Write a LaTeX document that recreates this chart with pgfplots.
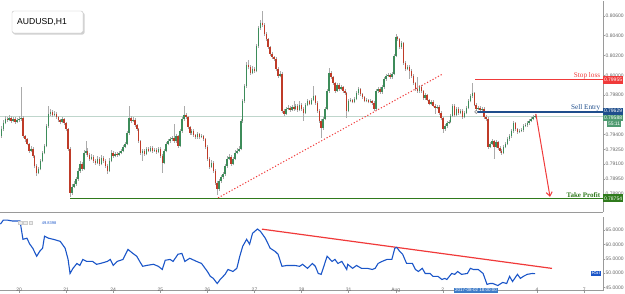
\documentclass[border=0pt]{standalone}
\usepackage{pgfplots}
\pgfplotsset{compat=1.18}
\usepackage{pgfplotstable}
\usetikzlibrary{arrows.meta}
\usepackage{fontspec}
\setmainfont{Liberation Sans}
\newfontfamily\serifl{Liberation Serif}

\definecolor{upc}{HTML}{3D8C5A}
\definecolor{dnc}{HTML}{BF3B28}
\definecolor{wickc}{HTML}{ABABAB}
\definecolor{rsic}{HTML}{1A55C8}
\definecolor{slc}{HTML}{F03A3A}
\definecolor{sec}{HTML}{1F4E8C}
\definecolor{tpc}{HTML}{2F7A1C}
\definecolor{curc}{HTML}{BFD6CC}
\definecolor{curbox}{HTML}{4E9A70}
\definecolor{axc}{HTML}{9A9A9A}
\definecolor{lblc}{HTML}{666666}
\definecolor{datebox}{HTML}{3F7CC8}
\newcommand{\tk}{\fontsize{5}{6}\selectfont}

% AUDUSD hourly candles, bar 0 = 20 Jul 00:00
\pgfplotstableread{
n o h l c
-9 0.79387 0.79488 0.79367 0.79458
-8 0.79458 0.79549 0.79440 0.79519
-7 0.79519 0.79590 0.79505 0.79559
-6 0.79559 0.79580 0.79530 0.79549
-5 0.79549 0.79600 0.79535 0.79569
-4 0.79569 0.79585 0.79520 0.79539
-3 0.79539 0.79578 0.79525 0.79559
-2 0.79559 0.79575 0.79510 0.79529
-1 0.79529 0.79570 0.79515 0.79549
0 0.79549 0.79590 0.79530 0.79559
1 0.79559 0.79883 0.79540 0.79569
2 0.79569 0.79585 0.79370 0.79387
3 0.79387 0.79400 0.79330 0.79357
4 0.79357 0.79370 0.79290 0.79306
5 0.79306 0.79320 0.79215 0.79235
6 0.79235 0.79280 0.79220 0.79256
7 0.79256 0.79270 0.79165 0.79185
8 0.79185 0.79195 0.79060 0.79084
9 0.79084 0.79100 0.78983 0.79013
10 0.79013 0.79075 0.79000 0.79054
11 0.79054 0.79150 0.79040 0.79134
12 0.79134 0.79235 0.79120 0.79215
13 0.79215 0.79310 0.79200 0.79286
14 0.79286 0.79510 0.79270 0.79488
15 0.79488 0.79690 0.79470 0.79610
16 0.79610 0.79660 0.79590 0.79630
17 0.79630 0.79650 0.79580 0.79599
18 0.79599 0.79640 0.79585 0.79610
19 0.79610 0.79625 0.79560 0.79579
20 0.79579 0.79590 0.79530 0.79549
21 0.79549 0.79560 0.79505 0.79529
22 0.79529 0.79580 0.79515 0.79559
23 0.79559 0.79570 0.79500 0.79519
24 0.79519 0.79530 0.79440 0.79458
25 0.79458 0.79470 0.79235 0.79256
26 0.79256 0.79270 0.78770 0.78811
27 0.78811 0.78900 0.78790 0.78872
28 0.78872 0.78930 0.78855 0.78902
29 0.78902 0.78975 0.78885 0.78952
30 0.78952 0.79060 0.78935 0.79033
31 0.79033 0.79130 0.79015 0.79104
32 0.79104 0.79120 0.79035 0.79054
33 0.79054 0.79240 0.79040 0.79215
34 0.79215 0.79337 0.79195 0.79235
35 0.79235 0.79260 0.79175 0.79195
36 0.79195 0.79215 0.79135 0.79155
37 0.79155 0.79200 0.79140 0.79175
38 0.79175 0.79190 0.79115 0.79134
39 0.79134 0.79150 0.79095 0.79114
40 0.79114 0.79180 0.79100 0.79155
41 0.79155 0.79170 0.79085 0.79104
42 0.79104 0.79190 0.79090 0.79165
43 0.79165 0.79185 0.79115 0.79134
44 0.79134 0.79150 0.79065 0.79084
45 0.79084 0.79100 0.79003 0.79033
46 0.79033 0.79160 0.79020 0.79134
47 0.79134 0.79240 0.79120 0.79215
48 0.79215 0.79230 0.79165 0.79185
49 0.79185 0.79225 0.79170 0.79205
50 0.79205 0.79220 0.79175 0.79195
51 0.79195 0.79235 0.79180 0.79215
52 0.79215 0.79255 0.79200 0.79235
53 0.79235 0.79295 0.79220 0.79276
54 0.79276 0.79330 0.79260 0.79306
55 0.79306 0.79440 0.79290 0.79417
56 0.79417 0.79690 0.79400 0.79569
57 0.79569 0.79590 0.79520 0.79539
58 0.79539 0.79575 0.79525 0.79549
59 0.79549 0.79565 0.79480 0.79498
60 0.79498 0.79510 0.79440 0.79458
61 0.79458 0.79470 0.79320 0.79337
62 0.79337 0.79350 0.79195 0.79215
63 0.79215 0.79255 0.79134 0.79235
64 0.79235 0.79250 0.79185 0.79205
65 0.79205 0.79275 0.79190 0.79256
66 0.79256 0.79270 0.79220 0.79235
67 0.79235 0.79285 0.79220 0.79266
68 0.79266 0.79280 0.79215 0.79235
69 0.79235 0.79265 0.79225 0.79246
70 0.79246 0.79260 0.79205 0.79225
71 0.79225 0.79275 0.79210 0.79256
72 0.79256 0.79270 0.79165 0.79185
73 0.79185 0.79200 0.79013 0.79114
74 0.79114 0.79255 0.79100 0.79235
75 0.79235 0.79330 0.79220 0.79306
76 0.79306 0.79360 0.79290 0.79337
77 0.79337 0.79380 0.79320 0.79357
78 0.79357 0.79390 0.79340 0.79367
79 0.79367 0.79508 0.79320 0.79337
80 0.79337 0.79410 0.79320 0.79387
81 0.79387 0.79400 0.79265 0.79286
82 0.79286 0.79460 0.79270 0.79438
83 0.79438 0.79580 0.79420 0.79559
84 0.79559 0.79690 0.79540 0.79599
85 0.79599 0.79620 0.79560 0.79579
86 0.79579 0.79590 0.79460 0.79478
87 0.79478 0.79490 0.79400 0.79417
88 0.79417 0.79460 0.79400 0.79438
89 0.79438 0.79455 0.79380 0.79397
90 0.79397 0.79410 0.79360 0.79377
91 0.79377 0.79430 0.79360 0.79407
92 0.79407 0.79420 0.79360 0.79377
93 0.79377 0.79410 0.79365 0.79387
94 0.79387 0.79400 0.79340 0.79357
95 0.79357 0.79370 0.79255 0.79276
96 0.79276 0.79290 0.79135 0.79155
97 0.79155 0.79170 0.79055 0.79074
98 0.79074 0.79140 0.79060 0.79114
99 0.79114 0.79130 0.79015 0.79033
100 0.79033 0.79050 0.78895 0.78912
101 0.78912 0.78930 0.78790 0.78851
102 0.78851 0.78955 0.78830 0.78932
103 0.78932 0.78995 0.78915 0.78973
104 0.78973 0.79025 0.78955 0.79003
105 0.79003 0.79105 0.78985 0.79084
106 0.79084 0.79180 0.79065 0.79155
107 0.79155 0.79200 0.79140 0.79175
108 0.79175 0.79190 0.79085 0.79104
109 0.79104 0.79175 0.79090 0.79155
110 0.79155 0.79240 0.79140 0.79215
111 0.79215 0.79260 0.79200 0.79235
112 0.79235 0.79280 0.79220 0.79256
113 0.79256 0.79560 0.79240 0.79539
114 0.79539 0.79765 0.79520 0.79741
115 0.79741 0.79915 0.79720 0.79893
116 0.79893 0.80130 0.79875 0.80105
117 0.80105 0.80150 0.80060 0.80085
118 0.80085 0.80100 0.80005 0.80024
119 0.80024 0.80090 0.80010 0.80065
120 0.80065 0.80080 0.80025 0.80044
121 0.80044 0.80320 0.80030 0.80297
122 0.80297 0.80500 0.80280 0.80479
123 0.80479 0.80560 0.80460 0.80530
124 0.80530 0.80651 0.80490 0.80509
125 0.80509 0.80530 0.80400 0.80418
126 0.80418 0.80435 0.80350 0.80368
127 0.80368 0.80380 0.80270 0.80287
128 0.80287 0.80300 0.80195 0.80216
129 0.80216 0.80235 0.80165 0.80186
130 0.80186 0.80200 0.80145 0.80166
131 0.80166 0.80180 0.80045 0.80065
132 0.80065 0.80080 0.79975 0.79994
133 0.79994 0.80040 0.79980 0.80014
134 0.80014 0.80030 0.79620 0.79640
135 0.79640 0.79660 0.79590 0.79610
136 0.79610 0.79680 0.79595 0.79660
137 0.79660 0.79695 0.79645 0.79670
138 0.79670 0.79690 0.79630 0.79650
139 0.79650 0.79700 0.79635 0.79680
140 0.79680 0.79741 0.79640 0.79660
141 0.79660 0.79710 0.79645 0.79690
142 0.79690 0.79705 0.79630 0.79650
143 0.79650 0.79741 0.79635 0.79701
144 0.79701 0.79715 0.79640 0.79660
145 0.79660 0.79680 0.79539 0.79620
146 0.79620 0.79720 0.79605 0.79701
147 0.79701 0.79760 0.79685 0.79741
148 0.79741 0.79755 0.79695 0.79711
149 0.79711 0.79775 0.79700 0.79751
150 0.79751 0.79893 0.79735 0.79792
151 0.79792 0.79805 0.79700 0.79721
152 0.79721 0.79735 0.79620 0.79640
153 0.79640 0.79655 0.79520 0.79539
154 0.79539 0.79555 0.79367 0.79468
155 0.79468 0.79575 0.79450 0.79559
156 0.79559 0.79680 0.79545 0.79660
157 0.79660 0.79860 0.79645 0.79842
158 0.79842 0.80075 0.79825 0.80024
159 0.80024 0.80040 0.79965 0.79984
160 0.79984 0.79995 0.79905 0.79923
161 0.79923 0.79935 0.79825 0.79842
162 0.79842 0.79920 0.79830 0.79903
163 0.79903 0.79925 0.79845 0.79862
164 0.79862 0.79905 0.79850 0.79883
165 0.79883 0.79895 0.79825 0.79842
166 0.79842 0.79860 0.79805 0.79822
167 0.79822 0.79835 0.79569 0.79640
168 0.79640 0.79760 0.79625 0.79741
169 0.79741 0.79770 0.79725 0.79751
170 0.79751 0.79765 0.79715 0.79731
171 0.79731 0.79780 0.79715 0.79761
172 0.79761 0.79840 0.79745 0.79822
173 0.79822 0.79885 0.79805 0.79862
174 0.79862 0.79875 0.79795 0.79812
175 0.79812 0.79825 0.79765 0.79781
176 0.79781 0.79795 0.79725 0.79741
177 0.79741 0.79770 0.79725 0.79751
178 0.79751 0.79765 0.79715 0.79731
179 0.79731 0.79760 0.79715 0.79741
180 0.79741 0.79755 0.79700 0.79721
181 0.79721 0.79735 0.79640 0.79660
182 0.79660 0.79860 0.79645 0.79842
183 0.79842 0.79885 0.79825 0.79862
184 0.79862 0.79880 0.79815 0.79832
185 0.79832 0.79900 0.79815 0.79883
186 0.79883 0.79985 0.79865 0.79963
187 0.79963 0.80015 0.79945 0.79994
188 0.79994 0.80025 0.79980 0.80004
189 0.80004 0.80020 0.79965 0.79984
190 0.79984 0.80035 0.79965 0.80014
191 0.80014 0.80215 0.80000 0.80196
192 0.80196 0.80418 0.80180 0.80388
193 0.80388 0.80400 0.80350 0.80368
194 0.80368 0.80380 0.80270 0.80287
195 0.80287 0.80345 0.80270 0.80327
196 0.80327 0.80340 0.80105 0.80125
197 0.80125 0.80140 0.80045 0.80065
198 0.80065 0.80105 0.80050 0.80085
199 0.80085 0.80100 0.79963 0.80044
200 0.80044 0.80060 0.79975 0.79994
201 0.79994 0.80010 0.79905 0.79923
202 0.79923 0.79935 0.79845 0.79862
203 0.79862 0.79984 0.79825 0.79842
204 0.79842 0.79905 0.79825 0.79883
205 0.79883 0.79900 0.79825 0.79842
206 0.79842 0.79855 0.79750 0.79771
207 0.79771 0.79820 0.79755 0.79802
208 0.79802 0.79815 0.79735 0.79751
209 0.79751 0.79765 0.79695 0.79711
210 0.79711 0.79750 0.79695 0.79731
211 0.79731 0.79745 0.79675 0.79690
212 0.79690 0.79705 0.79610 0.79670
213 0.79670 0.79700 0.79655 0.79680
214 0.79680 0.79695 0.79600 0.79620
215 0.79620 0.79635 0.79550 0.79569
216 0.79569 0.79580 0.79417 0.79458
217 0.79458 0.79510 0.79440 0.79488
218 0.79488 0.79540 0.79470 0.79519
219 0.79519 0.79550 0.79505 0.79529
220 0.79529 0.79610 0.79515 0.79589
221 0.79589 0.79710 0.79575 0.79690
222 0.79690 0.79705 0.79580 0.79599
223 0.79599 0.79680 0.79585 0.79660
224 0.79660 0.79675 0.79600 0.79620
225 0.79620 0.79660 0.79605 0.79640
226 0.79640 0.79655 0.79560 0.79579
227 0.79579 0.79640 0.79565 0.79620
228 0.79620 0.79690 0.79605 0.79670
229 0.79670 0.79760 0.79655 0.79741
230 0.79741 0.79810 0.79725 0.79792
231 0.79792 0.79923 0.79775 0.79822
232 0.79822 0.79835 0.79685 0.79701
233 0.79701 0.79715 0.79640 0.79660
234 0.79660 0.79690 0.79645 0.79670
235 0.79670 0.79685 0.79630 0.79650
236 0.79650 0.79680 0.79635 0.79660
237 0.79660 0.79675 0.79560 0.79579
238 0.79579 0.79595 0.79540 0.79559
239 0.79559 0.79575 0.79255 0.79276
240 0.79276 0.79330 0.79260 0.79306
241 0.79306 0.79360 0.79290 0.79337
242 0.79337 0.79350 0.79155 0.79276
243 0.79276 0.79345 0.79260 0.79326
244 0.79326 0.79340 0.79245 0.79266
245 0.79266 0.79280 0.79215 0.79235
246 0.79235 0.79255 0.79195 0.79215
247 0.79215 0.79295 0.79200 0.79276
248 0.79276 0.79325 0.79260 0.79306
249 0.79306 0.79375 0.79290 0.79357
250 0.79357 0.79405 0.79340 0.79387
251 0.79387 0.79455 0.79370 0.79438
252 0.79438 0.79540 0.79420 0.79519
253 0.79519 0.79530 0.79440 0.79458
254 0.79458 0.79470 0.79410 0.79428
255 0.79428 0.79455 0.79415 0.79438
256 0.79438 0.79470 0.79425 0.79448
257 0.79448 0.79505 0.79430 0.79488
258 0.79488 0.79515 0.79475 0.79498
259 0.79498 0.79535 0.79480 0.79519
260 0.79519 0.79555 0.79500 0.79539
261 0.79539 0.79575 0.79525 0.79559
262 0.79559 0.79600 0.79545 0.79579
263 0.79579 0.79610 0.79565 0.79589
}\candles

% RSI(14) on the same bars
\pgfplotstableread{
n r
-9.5 67.1
-8 68.5
-6 68.5
-3.5 68.2
-1 68.2
0.5 68.2
2 61.8
4 62.2
5.5 60.1
7 58.7
9 55.9
10.5 57.6
12 58.7
13 62.9
15 62.2
17.5 61.8
21 61.1
23.5 58.7
25 54.8
26 49.9
27.5 51.7
29.5 53.4
31 52.7
32.5 54.8
34.5 54.1
37.5 54.1
39.5 53.1
41.5 53.4
45 54.1
46.5 54.8
48 52.7
50 54.1
53 54.8
55.5 58.3
58 56.9
60 55.9
61.5 54.1
63 52.4
65 52.7
68.5 53.1
71 52.4
73 51.3
74.5 54.5
77 54.8
78.5 54.1
81 56.6
83 56.9
84.5 54.1
87 55.2
90.5 54.1
93 53.4
96 50.6
97.5 48.9
99 48.2
101 46.4
102.5 47.8
105 49.6
106.5 51.3
109 50.6
111 51.7
112.5 55.9
114 59.4
116 61.8
117.5 60.1
119 63.9
121.5 65.4
123 64.6
125.5 62.2
128 58.7
130.5 57.6
132 56.6
134 52.4
136.5 52.7
140.5 52.7
143 52.4
144.5 53.1
147 51.7
149.5 53.4
151 52.4
152.5 49.9
154 49.6
155 51.7
157 55.9
158 55.2
159.5 54.1
161 54.8
162.5 53.4
164.5 54.1
167 51.3
167.5 53.1
170 51.7
172 52.7
174.5 51.7
177.5 51.7
180 51.3
181.5 51.7
183 53.4
185 54.1
187.5 54.8
190 54.8
191.5 58.7
192.5 59.0
194 57.6
195.5 56.6
197.5 53.4
200.5 53.4
202 51.3
203.5 50.6
205.5 51.7
207 49.9
209.5 49.9
211 48.9
213.5 48.9
215.5 47.8
217 48.2
218 47.8
220.5 49.9
222 49.6
223.5 50.6
225.5 49.6
228.5 49.9
230 51.7
231.5 51.3
234 51.3
236.5 49.9
238.5 46.1
240 46.4
241.5 46.4
244 45.7
246.5 46.8
248.5 46.4
250 48.9
251.5 47.1
254 49.6
255.5 48.2
257 48.9
259 49.6
261.5 49.9
263 49.84
}\rsidata

\pgfplotsset{
  candle part/.style n args={2}{only marks, mark=*, mark size=0pt,
    mark options={draw=none, fill=none},
    error bars/.cd, y dir=plus, y explicit, error mark=none,
    error bar style={draw=#1, line width=#2, line cap=butt}},
}

\begin{document}
\begin{tikzpicture}[x=1pt,y=1pt]
\useasboundingbox (0,0) rectangle (625,293);

% ---------------- price panel ----------------
\begin{axis}[
  at={(0,82)}, anchor=south west,
  scale only axis, width=603pt, height=211pt,
  xmin=-9.7, xmax=297.6, ymin=0.78618, ymax=0.80752,
  axis x line*=bottom, axis y line*=right,
  axis line style={draw=axc, line width=0.8pt, -},
  xtick=\empty,
  ytick={0.788,0.7895,0.791,0.7925,0.794,0.798,0.800,0.802,0.804,0.806},
  yticklabels={0.78800,0.78950,0.79100,0.79250,0.79400,0.79800,0.80000,0.80200,0.80400,0.80600},
  yticklabel style={font=\tk, text=lblc, anchor=west, inner sep=0pt, xshift=0.5pt},
  y tick style={draw=axc, line width=0.5pt},
  tick align=outside, major tick length=2pt,
  scaled y ticks=false, clip=false,
]
% current bid line
\addplot[curc, line width=0.7pt] coordinates {(-9.7,0.79588) (297.6,0.79588)};
% take profit level
\addplot[tpc, line width=1.2pt] coordinates {(26,0.78754) (297.6,0.78754)};
% wicks
\addplot[candle part={wickc}{0.5pt}]
  table[x=n, y=l, y error expr=\thisrow{h}-\thisrow{l}] {\candles};
% rising bodies
\addplot[candle part={upc}{1.5pt}]
  table[x=n, y=o, y error expr={max(\thisrow{c}-\thisrow{o},0)}] {\candles};
% falling bodies
\addplot[candle part={dnc}{1.5pt}]
  table[x=n, y=c, y error expr={max(\thisrow{o}-\thisrow{c},0)}] {\candles};
% rising trend line
\addplot[slc, line width=1pt, dash pattern=on 1.2pt off 1.9pt] coordinates {(101.4,0.78760) (216,0.80014)};
% stop loss and entry
\addplot[slc, line width=1.1pt] coordinates {(232.4,0.79955) (297.6,0.79955)};
\addplot[sec, line width=1.1pt] coordinates {(233.4,0.79629) (297.6,0.79629)};
\addplot[only marks, mark=o, mark size=1.6pt, draw=gray, line width=0.5pt] coordinates {(233.0,0.79629)};
% projected move
\addplot[slc, line width=1pt, -{Straight Barb[length=4pt,width=6pt]}] coordinates {(263.4,0.79610) (270.6,0.78770)};

% level captions
\node[anchor=south east, inner sep=0.6pt, text=slc, font=\serifl\fontsize{7.2}{8}\selectfont] at (axis cs:297.6,0.79955) [xshift=-2pt] {Stop loss};
\node[anchor=south east, inner sep=0.6pt, text=sec, font=\serifl\fontsize{7.2}{8}\selectfont] at (axis cs:297.6,0.79629) [xshift=-2pt] {Sell Entry};
\node[anchor=south east, inner sep=0.6pt, text=tpc, font=\serifl\bfseries\fontsize{7}{8}\selectfont] at (axis cs:297.6,0.78754) [xshift=-2pt] {Take Profit};

% price tags on the scale
\node[anchor=west, fill=slc, text=white, font=\tk, inner sep=0.8pt, minimum height=8pt] at (axis cs:297.6,0.79955) {0.79955};
\node[anchor=west, fill=sec, text=white, font=\tk, inner sep=0.8pt, minimum height=6.5pt] at (axis cs:297.6,0.79636) {0.79629};
\node[anchor=west, fill=curbox, text=white, font=\tk, inner sep=0.8pt, minimum height=6.5pt] at (axis cs:297.6,0.79570) {0.79588};
\node[anchor=west, fill=curbox, text=white, font=\tk, inner sep=0.8pt, minimum height=6pt] at (axis cs:297.6,0.79510) [xshift=4pt] {55:11};
\node[anchor=west, fill=tpc, text=white, font=\tk, inner sep=0.8pt, minimum height=8pt] at (axis cs:297.6,0.78754) {0.78754};
\end{axis}

% ---------------- RSI panel ----------------
\begin{axis}[
  at={(0,8.5)}, anchor=south west,
  scale only axis, width=603pt, height=73.5pt,
  xmin=-9.7, xmax=297.6, ymin=43.95, ymax=69.56,
  axis x line*=bottom, axis y line*=right,
  axis line style={draw=axc, line width=0.8pt, -},
  xtick={0,24,48,72,96,120,144,168,192,216,264,288},
  xticklabels={20,21,24,25,26,27,28,31,Aug,2,4,7},
  xticklabel style={font=\tk, text=lblc, inner sep=0pt, anchor=north, yshift=4.5pt},
  x tick style={draw=axc, line width=0.4pt},
  ytick={45,50,55,60,65},
  yticklabels={45.0000,50.0000,55.0000,60.0000,65.0000},
  yticklabel style={font=\tk, text=lblc, anchor=west, inner sep=0pt, xshift=0.5pt},
  y tick style={draw=axc, line width=0.5pt},
  tick align=outside, major tick length=2pt,
  clip=false,
]
\addplot[slc, line width=1.2pt] coordinates {(123.8,65.35) (271.6,51.67)};
\addplot[rsic, line width=1.1pt] table[x=n, y=r] {\rsidata};
\node[anchor=west, text=rsic, font=\fontsize{4}{5}\selectfont, inner sep=0pt] at (axis cs:11.5,67.6) {49.8398};
\node[draw=gray!40, fill=gray!15, minimum size=3.4pt, inner sep=0pt] at (axis cs:0.6,67.6) {};
\node[draw=gray!40, fill=gray!15, minimum size=3.4pt, inner sep=0pt] at (axis cs:3.2,67.6) {};
\node[draw=gray!40, fill=gray!15, minimum size=3.4pt, inner sep=0pt] at (axis cs:5.8,67.6) {};
\node[anchor=east, fill=rsic, text=white, font=\tk, inner sep=0.9pt] at (axis cs:297.6,50) [xshift=-2pt] {RSI};
\node[anchor=north, fill=datebox, text=white, font=\fontsize{4.5}{5}\selectfont, inner sep=0.9pt] at (axis cs:232.9,43.95) [yshift=3pt] {2017-08-02 18:00:00};
\end{axis}

% symbol caption
\fill[black!18, rounded corners=2pt] (13,258.5) rectangle (84.5,280.5);
\draw[draw=black!25, fill=white, rounded corners=2pt] (12,260) rectangle (83,282);
\node[anchor=west, font=\fontsize{8.6}{10}\selectfont, inner sep=0pt] at (17,270.5) {AUDUSD,H1};
\end{tikzpicture}
\end{document}
